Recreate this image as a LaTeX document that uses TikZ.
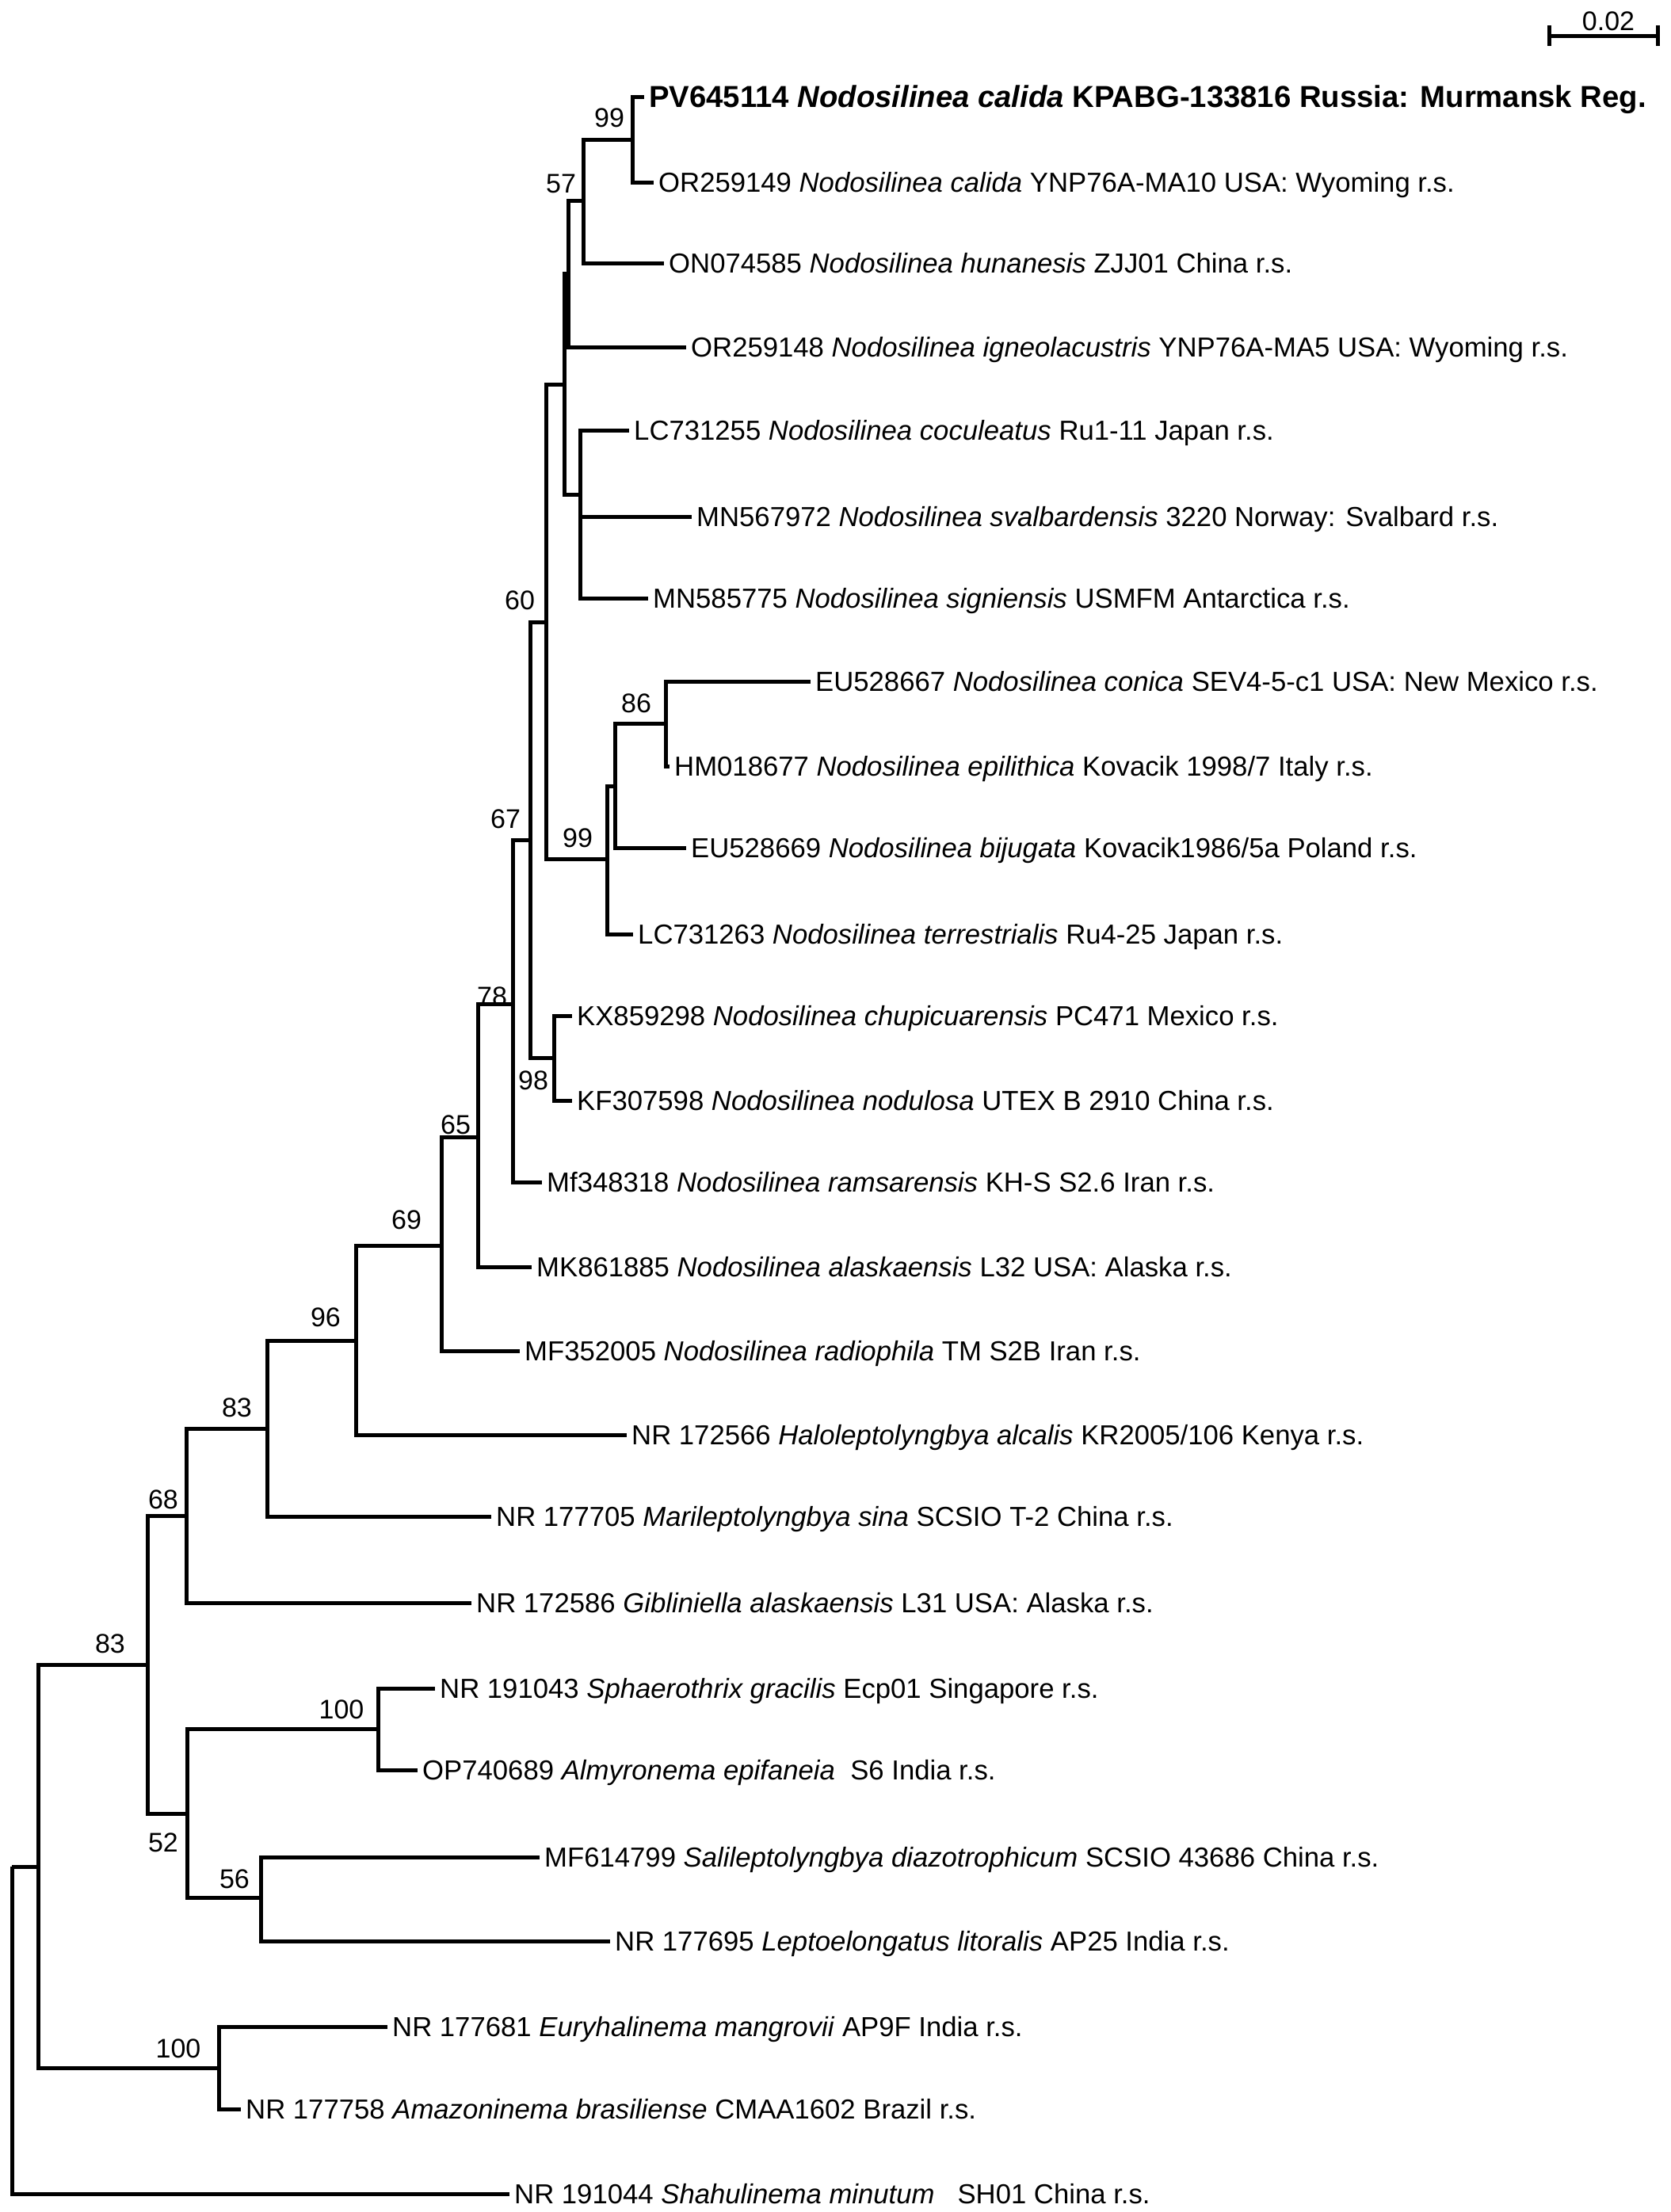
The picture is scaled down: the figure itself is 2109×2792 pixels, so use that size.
\documentclass[tikz,border=0pt]{standalone}
\usepackage{fontspec}
\setmainfont{Liberation Sans}
\newcommand\leaffont{\fontsize{34.7}{40}\selectfont}
\newcommand\boldleaffont{\fontsize{38.3}{42}\selectfont\bfseries}
\newcommand\bootfont{\fontsize{34}{38}\selectfont}
\begin{document}
\begin{tikzpicture}[x=1pt,y=-1pt,
  leaf/.style={anchor=west, inner xsep=6pt, inner ysep=0pt, text height=25pt, text depth=0pt, font=\leaffont},
  boldleaf/.style={leaf, text height=27pt, font=\boldleaffont},
  boot/.style={inner sep=0pt, font=\bootfont},
  branch/.style={line width=5pt, black}]
\useasboundingbox (0,0) rectangle (2109,2792);

% internal nodes (x, stem y)
\coordinate (root)  at (15,2356);
\coordinate (n83L)  at (48,2356);
\coordinate (n100b) at (276,2610);
\coordinate (nA)    at (186,2101);
\coordinate (n68)   at (235,1913);
\coordinate (n83U)  at (337,1803);
\coordinate (n96)   at (449,1692);
\coordinate (n69)   at (557,1572);
\coordinate (n65)   at (603,1435);
\coordinate (n78)   at (647,1267);
\coordinate (n67)   at (669,1060);
\coordinate (n98)   at (699,1335);
\coordinate (n60)   at (689,785);
\coordinate (n99b)  at (766,1084);
\coordinate (nB)    at (776,992);
\coordinate (n86)   at (840,913);
\coordinate (nC)    at (712.5,485);
\coordinate (nLC)   at (732,624);
\coordinate (nD)    at (717.5,345);
\coordinate (n57)   at (736,253);
\coordinate (n99)   at (798,176);
\coordinate (n52)   at (236,2289);
\coordinate (n100a) at (477,2182);
\coordinate (n56)   at (329,2395);

% leaves
\node[boldleaf] (l1)  at (813,122)  {PV645114 \textit{Nodosilinea calida} KPABG-133816 Russia: Murmansk Reg.};
\node[leaf] (l2)  at (825,230)  {OR259149 \textit{Nodosilinea calida} YNP76A-MA10 USA: Wyoming r.s.};
\node[leaf] (l3)  at (838,332)  {ON074585 \textit{Nodosilinea hunanesis} ZJJ01 China r.s.};
\node[leaf] (l4)  at (866,438)  {OR259148 \textit{Nodosilinea igneolacustris} YNP76A-MA5 USA: Wyoming r.s.};
\node[leaf] (l5)  at (794,543)  {LC731255 \textit{Nodosilinea coculeatus} Ru1-11 Japan r.s.};
\node[leaf] (l6)  at (873,652)  {MN567972 \textit{Nodosilinea svalbardensis} 3220 Norway: Svalbard r.s.};
\node[leaf] (l7)  at (818,755)  {MN585775 \textit{Nodosilinea signiensis} USMFM Antarctica r.s.};
\node[leaf] (l8)  at (1023,860) {EU528667 \textit{Nodosilinea conica} SEV4-5-c1 USA: New Mexico r.s.};
\node[leaf] (l9)  at (845,967)  {HM018677 \textit{Nodosilinea epilithica} Kovacik 1998/7 Italy r.s.};
\node[leaf] (l10) at (866,1070) {EU528669 \textit{Nodosilinea bijugata} Kovacik1986/5a Poland r.s.};
\node[leaf] (l11) at (799,1179) {LC731263 \textit{Nodosilinea terrestrialis} Ru4-25 Japan r.s.};
\node[leaf] (l12) at (722,1282) {KX859298 \textit{Nodosilinea chupicuarensis} PC471 Mexico r.s.};
\node[leaf] (l13) at (722,1389) {KF307598 \textit{Nodosilinea nodulosa} UTEX B 2910 China r.s.};
\node[leaf] (l14) at (684,1492) {Mf348318 \textit{Nodosilinea ramsarensis} KH-S S2.6 Iran r.s.};
\node[leaf] (l15) at (671,1599) {MK861885 \textit{Nodosilinea alaskaensis} L32 USA: Alaska r.s.};
\node[leaf] (l16) at (656,1705) {MF352005 \textit{Nodosilinea radiophila} TM S2B Iran r.s.};
\node[leaf] (l17) at (791,1811) {NR 172566 \textit{Haloleptolyngbya alcalis} KR2005/106 Kenya r.s.};
\node[leaf] (l18) at (620,1914) {NR 177705 \textit{Marileptolyngbya sina} SCSIO T-2 China r.s.};
\node[leaf] (l19) at (595,2023) {NR 172586 \textit{Gibliniella alaskaensis} L31 USA: Alaska r.s.};
\node[leaf] (l20) at (549,2131) {NR 191043 \textit{Sphaerothrix gracilis} Ecp01 Singapore r.s.};
\node[leaf] (l21) at (527,2234) {OP740689 \textit{Almyronema epifaneia}\ \ S6 India r.s.};
\node[leaf] (l22) at (681,2344) {MF614799 \textit{Salileptolyngbya diazotrophicum} SCSIO 43686 China r.s.};
\node[leaf] (l23) at (770,2450) {NR 177695 \textit{Leptoelongatus litoralis} AP25 India r.s.};
\node[leaf] (l24) at (489,2558) {NR 177681 \textit{Euryhalinema mangrovii} AP9F India r.s.};
\node[leaf] (l25) at (304,2662) {NR 177758 \textit{Amazoninema brasiliense} CMAA1602 Brazil r.s.};
\node[leaf] (l26) at (643,2769) {NR 191044 \textit{Shahulinema minutum}\ \ \ SH01 China r.s.};

% branches
\draw[branch] (root) |- (n83L);
\draw[branch] (root) |- (l26.west);
\draw[branch] (n83L) |- (nA);
\draw[branch] (n83L) |- (n100b);
\draw[branch] (n100b) |- (l24.west);
\draw[branch] (n100b) |- (l25.west);
\draw[branch] (nA) |- (n68);
\draw[branch] (nA) |- (n52);
\draw[branch] (n52) |- (n100a);
\draw[branch] (n52) |- (n56);
\draw[branch] (n100a) |- (l20.west);
\draw[branch] (n100a) |- (l21.west);
\draw[branch] (n56) |- (l22.west);
\draw[branch] (n56) |- (l23.west);
\draw[branch] (n68) |- (n83U);
\draw[branch] (n68) |- (l19.west);
\draw[branch] (n83U) |- (n96);
\draw[branch] (n83U) |- (l18.west);
\draw[branch] (n96) |- (n69);
\draw[branch] (n96) |- (l17.west);
\draw[branch] (n69) |- (n65);
\draw[branch] (n69) |- (l16.west);
\draw[branch] (n65) |- (n78);
\draw[branch] (n65) |- (l15.west);
\draw[branch] (n78) |- (n67);
\draw[branch] (n78) |- (l14.west);
\draw[branch] (n67) |- (n60);
\draw[branch] (n67) |- (n98);
\draw[branch] (n98) |- (l12.west);
\draw[branch] (n98) |- (l13.west);
\draw[branch] (n60) |- (nC);
\draw[branch] (n60) |- (n99b);
\draw[branch] (n99b) |- (nB);
\draw[branch] (n99b) |- (l11.west);
\draw[branch] (nB) |- (n86);
\draw[branch] (nB) |- (l10.west);
\draw[branch] (n86) |- (l8.west);
\draw[branch] (n86) |- (l9.west);
\draw[branch] (nC) |- (nD);
\draw[branch] (nC) |- (nLC);
\draw[branch] (nLC) |- (l5.west);
\draw[branch] (nLC) |- (l6.west);
\draw[branch] (nLC) |- (l7.west);
\draw[branch] (nD) |- (n57);
\draw[branch] (nD) |- (l4.west);
\draw[branch] (n57) |- (n99);
\draw[branch] (n57) |- (l3.west);
\draw[branch] (n99) |- (l1.west);
\draw[branch] (n99) |- (l2.west);

% bootstrap values
\node[boot] (b99)   at (769,149)  {99};
\node[boot] (b57)   at (708,232)  {57};
\node[boot] (b60)   at (656,758)  {60};
\node[boot] (b86)   at (803,888)  {86};
\node[boot] (b67)   at (638,1034) {67};
\node[boot] (b99b)  at (729,1058) {99};
\node[boot] (b78)   at (621,1258) {78};
\node[boot] (b98)   at (673,1364) {98};
\node[boot] (b65)   at (575,1420) {65};
\node[boot] (b69)   at (513,1540) {69};
\node[boot] (b96)   at (411,1663) {96};
\node[boot] (b83U)  at (299,1777) {83};
\node[boot] (b68)   at (206,1893) {68};
\node[boot] (b83L)  at (139,2075) {83};
\node[boot] (b100a) at (431,2158) {100};
\node[boot] (b52)   at (206,2326) {52};
\node[boot] (b56)   at (296,2372) {56};
\node[boot] (b100b) at (225,2586) {100};

% scale bar
\coordinate (sbL) at (1955,45);
\coordinate (sbR) at (2092,45);
\draw[branch] (sbL) -- (sbR);
\draw[branch] (sbL) ++(0,-13) -- ++(0,26);
\draw[branch] (sbR) ++(0,-13) -- ++(0,26);
\node[boot] (sblab) at (2030,27) {0.02};
\end{tikzpicture}
\end{document}
